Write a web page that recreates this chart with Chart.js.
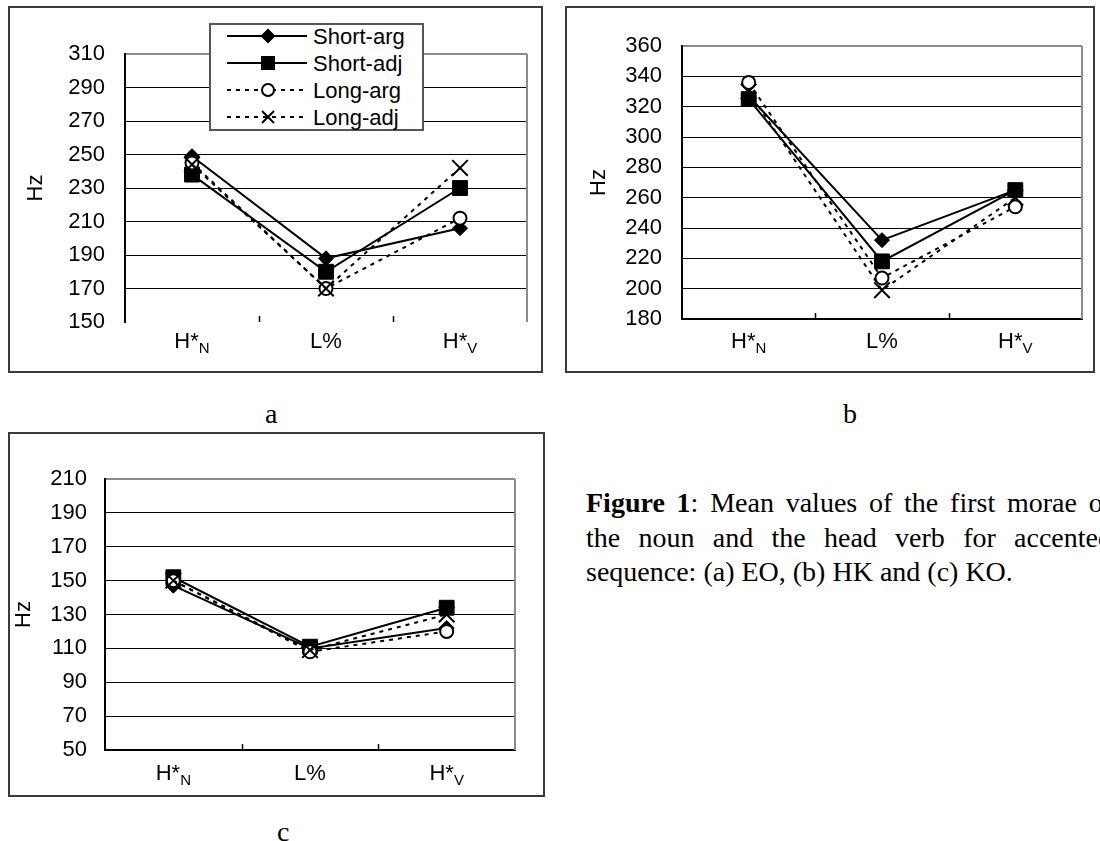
<!DOCTYPE html>
<html>
<head>
<meta charset="utf-8">
<script src="https://cdn.jsdelivr.net/npm/chart.js@4/dist/chart.umd.min.js"></script>
<style>
html,body{margin:0;padding:0;background:#fff;}
body{width:1100px;height:841px;overflow:hidden;position:relative;}
.box{position:absolute;border:2px solid #3a3a3a;box-sizing:border-box;pointer-events:none;}
canvas{position:absolute;}
.cap{position:absolute;font-family:"Liberation Serif","Times New Roman",serif;font-size:28px;color:#000;line-height:1;}
.legend{position:absolute;left:209px;top:23px;width:215px;height:108px;border:2px solid #555;background:#fff;box-sizing:border-box;font-family:"Liberation Sans",Arial,sans-serif;font-size:22px;color:#000;}
.legend svg{position:absolute;left:16px;top:0;}
.legend span{position:absolute;left:102px;line-height:27px;white-space:nowrap;}
.fig{position:absolute;left:586px;width:526px;font-family:"Liberation Serif","Times New Roman",serif;font-size:28px;line-height:34.5px;color:#000;white-space:nowrap;}
.j{text-align:justify;text-align-last:justify;}
</style>
</head>
<body>
<canvas id="ca" width="535" height="367" style="left:8px;top:6px;width:535px;height:367px"></canvas>
<div class="box" style="left:8px;top:6px;width:535px;height:367px"></div>
<canvas id="cb" width="530" height="367" style="left:565px;top:6px;width:530px;height:367px"></canvas>
<div class="box" style="left:565px;top:6px;width:530px;height:367px"></div>
<canvas id="cc" width="537" height="365" style="left:8px;top:432px;width:537px;height:365px"></canvas>
<div class="box" style="left:8px;top:432px;width:537px;height:365px"></div>

<div class="legend">
  <svg width="82" height="104" viewBox="0 0 82 104">
    <line x1="0" y1="11" x2="80" y2="11" stroke="#000" stroke-width="2"/>
    <polygon points="41,3.5 48.5,11 41,18.5 33.5,11" fill="#000"/>
    <line x1="0" y1="38" x2="80" y2="38" stroke="#000" stroke-width="2"/>
    <rect x="34" y="31" width="14" height="14" fill="#000"/>
    <line x1="0" y1="65" x2="80" y2="65" stroke="#000" stroke-width="2" stroke-dasharray="4,5"/>
    <circle cx="41" cy="65" r="6" fill="#fff" stroke="#000" stroke-width="2"/>
    <line x1="0" y1="92" x2="80" y2="92" stroke="#000" stroke-width="2" stroke-dasharray="4,5"/>
    <line x1="35" y1="86" x2="47" y2="98" stroke="#000" stroke-width="2"/>
    <line x1="35" y1="98" x2="47" y2="86" stroke="#000" stroke-width="2"/>
  </svg>
  <span id="lg0" style="top:-2px"></span>
  <span id="lg1" style="top:25px"></span>
  <span id="lg2" style="top:52px"></span>
  <span id="lg3" style="top:79px"></span>
</div>

<div class="cap" style="left:265px;top:400px">a</div>
<div class="cap" style="left:843px;top:400px">b</div>
<div class="cap" style="left:277px;top:818px">c</div>

<div class="fig j" style="top:486px"><b>Figure 1</b>: Mean values of the first morae of</div>
<div class="fig j" style="top:520.5px">the noun and the head verb for accented</div>
<div class="fig" style="top:555px">sequence: (a) EO, (b) HK and (c) KO.</div>

<script>
// ---- data ----
const categoryMain = ['H*', 'L%', 'H*'];
const categorySub  = ['N', '', 'V'];
const categories   = ['H*N', 'L%', 'H*V'];
const seriesNames  = ['Short-arg', 'Short-adj', 'Long-arg', 'Long-adj'];

// (a) EO
const eoShortArg = [249, 188, 206];
const eoShortAdj = [238, 180, 230];
const eoLongArg  = [245, 170, 212];
const eoLongAdj  = [244, 170, 242];
const eoYTicks   = [150, 170, 190, 210, 230, 250, 270, 290, 310];

// (b) HK
const hkShortArg = [327, 232, 265];
const hkShortAdj = [325, 218, 265];
const hkLongArg  = [336, 207, 254];
const hkLongAdj  = [330, 199, 260];
const hkYTicks   = [180, 200, 220, 240, 260, 280, 300, 320, 340, 360];

// (c) KO
const koShortArg = [147, 110, 122];
const koShortAdj = [152, 111, 134];
const koLongArg  = [150, 108, 120];
const koLongAdj  = [150, 109, 130];
const koYTicks   = [50, 70, 90, 110, 130, 150, 170, 190, 210];

const yTitle = 'Hz';

seriesNames.forEach((n, i) => { document.getElementById('lg' + i).textContent = n; });

const FONT = '"Liberation Sans", Arial, sans-serif';

const framePlugin = {
  id: 'frame',
  beforeDatasetsDraw(chart, args, opts) {
    const ctx = chart.ctx, a = chart.chartArea, x = chart.scales.x;
    ctx.save();
    ctx.strokeStyle = '#8c8c8c';
    ctx.lineWidth = 2;
    ctx.beginPath();
    ctx.moveTo(a.right, a.top);
    ctx.lineTo(a.right, a.bottom);
    ctx.stroke();
    ctx.strokeStyle = '#000';
    ctx.lineWidth = 1.5;
    for (let i = 0; i < categories.length - 1; i++) {
      const bx = Math.round((x.getPixelForValue(i) + x.getPixelForValue(i + 1)) / 2) + 0.5;
      ctx.beginPath();
      ctx.moveTo(bx, a.bottom);
      ctx.lineTo(bx, a.bottom - 6);
      ctx.stroke();
    }
    ctx.restore();
  },
  afterDraw(chart, args, opts) {
    const ctx = chart.ctx, x = chart.scales.x;
    ctx.save();
    ctx.fillStyle = '#000';
    ctx.textBaseline = 'alphabetic';
    ctx.textAlign = 'left';
    const base = chart.chartArea.bottom + opts.labelOffset;
    categories.forEach((c, i) => {
      ctx.font = '22px ' + FONT;
      const wm = ctx.measureText(categoryMain[i]).width;
      ctx.font = '15px ' + FONT;
      const ws = categorySub[i] ? ctx.measureText(categorySub[i]).width : 0;
      const cx = x.getPixelForValue(i);
      const sx = cx - (wm + ws) / 2;
      ctx.font = '22px ' + FONT;
      ctx.fillText(categoryMain[i], sx, base);
      if (categorySub[i]) {
        ctx.font = '15px ' + FONT;
        ctx.fillText(categorySub[i], sx + wm, base + 5);
      }
    });
    ctx.restore();
  }
};

const pointStyles = ['rectRot', 'rect', 'circle', 'crossRot'];
const pointRadii  = [7.5, 10.5, 6.5, 11];
const pointFills  = ['#000', '#000', '#fff', '#000'];
const pointBW     = [1, 1, 2, 2];

function build(id, sets, yTicks, L) {
  const yMin = yTicks[0], yMax = yTicks[yTicks.length - 1];
  return new Chart(document.getElementById(id), {
    type: 'line',
    data: {
      labels: categories,
      datasets: seriesNames.map((name, i) => ({
        label: name,
        data: sets[i],
        order: 4 - i,
        borderColor: '#000',
        borderWidth: 2,
        borderDash: i >= 2 ? [4, 5] : [],
        tension: 0,
        fill: false,
        pointStyle: pointStyles[i],
        pointRadius: pointRadii[i],
        pointHoverRadius: pointRadii[i],
        pointBackgroundColor: pointFills[i],
        pointBorderColor: '#000',
        pointBorderWidth: pointBW[i]
      }))
    },
    options: {
      responsive: false,
      animation: false,
      devicePixelRatio: 1,
      events: [],
      layout: { padding: { left: 0, top: L.top, right: L.right, bottom: 0 } },
      plugins: {
        legend: { display: false },
        tooltip: { enabled: false },
        frame: { labelOffset: L.labelOffset }
      },
      scales: {
        x: {
          offset: true,
          grid: { display: false },
          border: { display: L.xBorder, color: '#000', width: 2 },
          ticks: { display: false },
          afterFit(s) { s.height = L.xh; }
        },
        y: {
          min: yMin,
          max: yMax,
          afterBuildTicks(s) { s.ticks = yTicks.map(v => ({ value: v })); },
          ticks: { color: '#000', font: { family: FONT, size: 22 }, padding: L.tickPad },
          grid: {
            drawTicks: false,
            color: c => c.tick.value === yMax ? '#8c8c8c' : (c.tick.value === yMin ? L.minGrid : '#000'),
            lineWidth: c => c.tick.value === yMax ? 2 : 1
          },
          border: { color: '#000', width: 2 },
          title: { display: true, text: yTitle, color: '#000', font: { family: FONT, size: 22 }, padding: { top: L.titlePad, bottom: 0 } },
          afterFit(s) { s.width = L.yw; }
        }
      }
    },
    plugins: [framePlugin]
  });
}

build('ca', [eoShortArg, eoShortAdj, eoLongArg, eoLongAdj], eoYTicks,
  { top: 48, right: 16, xh: 51, yw: 117, tickPad: 20, titlePad: 15, labelOffset: 26, xBorder: false, minGrid: 'rgba(0,0,0,0)' });
build('cb', [hkShortArg, hkShortAdj, hkLongArg, hkLongAdj], hkYTicks,
  { top: 40, right: 12, xh: 54, yw: 117, tickPad: 20, titlePad: 21, labelOffset: 29, xBorder: true, minGrid: '#000' });
build('cc', [koShortArg, koShortAdj, koLongArg, koLongAdj], koYTicks,
  { top: 47, right: 30, xh: 47, yw: 97, tickPad: 18, titlePad: 3, labelOffset: 30, xBorder: true, minGrid: '#000' });
</script>
</body>
</html>
